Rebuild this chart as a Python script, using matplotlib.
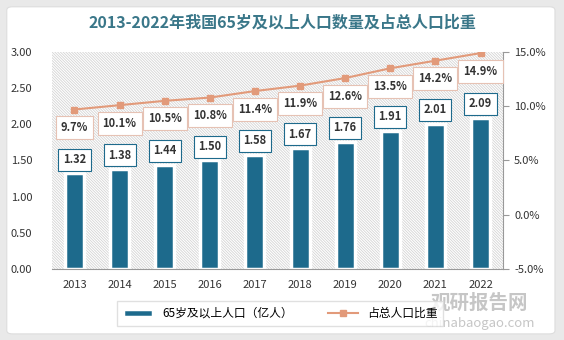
import matplotlib

matplotlib.use("Agg")
import matplotlib.pyplot as plt
from matplotlib.patches import Rectangle, FancyBboxPatch
from matplotlib.ticker import FuncFormatter

plt.rcParams["font.family"] = ["Noto Sans CJK SC", "DejaVu Sans"]
plt.rcParams["hatch.color"] = "#d4d4d4"
plt.rcParams["hatch.linewidth"] = 0.6

years = ["2013", "2014", "2015", "2016", "2017", "2018", "2019", "2020", "2021", "2022"]
elderly = [1.32, 1.38, 1.44, 1.50, 1.58, 1.67, 1.76, 1.91, 2.01, 2.09]   # 亿人
share = [9.7, 10.1, 10.5, 10.8, 11.4, 11.9, 12.6, 13.5, 14.2, 14.9]      # %

BAR = "#1d6a8c"
LINE = "#e29a7a"
TITLE = "#3a7789"
TXT = "#333333"

fig = plt.figure(figsize=(5.64, 3.40), dpi=100, facecolor="#e9e9e9")
# white card behind everything
fig.patches.append(FancyBboxPatch((0.012, 0.018), 0.972, 0.962,
                                  boxstyle="round,pad=0,rounding_size=0.01",
                                  transform=fig.transFigure, facecolor="white",
                                  edgecolor="#dddddd", linewidth=0.8, zorder=-5))

ax = fig.add_axes([0.092, 0.209, 0.800, 0.638])
ax.set_facecolor("white")
x = list(range(len(years)))
ax.set_xlim(-0.5, len(years) - 0.5)
ax.set_ylim(0, 3.0)

# hatched plot-area background
ax.add_patch(Rectangle((0, 0), 1, 1, transform=ax.transAxes, facecolor="white",
                       hatch="\\\\\\\\\\\\\\\\\\\\\\\\", edgecolor="#d4d4d4",
                       linewidth=0, zorder=0))

bars = ax.bar(x, elderly, width=0.42, color=BAR, edgecolor="white",
              linewidth=2.5, zorder=2, label="65岁及以上人口（亿人）")
for xi, v in zip(x, elderly):
    ax.annotate(f"{v:.2f}", (xi, v), xytext=(0, 10), textcoords="offset points",
                ha="center", va="center", fontsize=8, fontweight="bold", color=TXT,
                bbox=dict(boxstyle="square,pad=0.4", fc="white", ec=BAR, lw=0.8),
                zorder=5)

ax.set_yticks([0, 0.5, 1.0, 1.5, 2.0, 2.5, 3.0])
ax.yaxis.set_major_formatter(FuncFormatter(lambda v, _: f"{v:.2f}"))
ax.set_xticks(x, years)
ax.tick_params(axis="both", length=0, labelsize=8, colors=TXT, pad=8)
ax.tick_params(axis="y", pad=14)
for s in ["left", "top", "right"]:
    ax.spines[s].set_visible(False)
ax.spines["bottom"].set_color("#999999")

ax2 = ax.twinx()
ax2.set_ylim(-5, 15)
line, = ax2.plot(x, share, color=LINE, lw=1.5, marker="s", markersize=5,
                 zorder=4, label="占总人口比重")
for xi, v in zip(x, share):
    ax2.annotate(f"{v:.1f}%", (xi, v), xytext=(0, -13), textcoords="offset points",
                 ha="center", va="center", fontsize=8, fontweight="bold", color=TXT,
                 bbox=dict(boxstyle="square,pad=0.45", fc="white", ec="#e6c2b4", lw=0.8),
                 zorder=5)
ax2.set_yticks([-5, 0, 5, 10, 15])
ax2.yaxis.set_major_formatter(FuncFormatter(lambda v, _: f"{v:.1f}%"))
ax2.tick_params(axis="y", direction="out", length=4, color="#999999",
                labelsize=8, labelcolor=TXT, pad=4)
for s in ["left", "top", "bottom"]:
    ax2.spines[s].set_visible(False)
ax2.spines["right"].set_color("#999999")

fig.text(0.5, 0.935, "2013-2022年我国65岁及以上人口数量及占总人口比重",
         ha="center", va="center", fontsize=11.5, fontweight="bold", color=TITLE)

fig.legend([bars, line], ["65岁及以上人口（亿人）", "占总人口比重"],
           loc="center", bbox_to_anchor=(0.497, 0.078), ncol=2, fontsize=8.5,
           frameon=True, fancybox=False, edgecolor="#d9d9d9", columnspacing=3,
           handlelength=2.5, borderpad=0.5)

# site watermark
fig.text(0.85, 0.108, "观研报告网", ha="center", va="center", fontsize=14,
         fontweight="bold", color="#a0a0a0", alpha=0.6)
fig.text(0.85, 0.05, "chinabaogao.com", ha="center", va="center", fontsize=9.5,
         color="#a0a0a0", alpha=0.6)

fig.savefig("out.png", dpi=100, facecolor=fig.get_facecolor())
